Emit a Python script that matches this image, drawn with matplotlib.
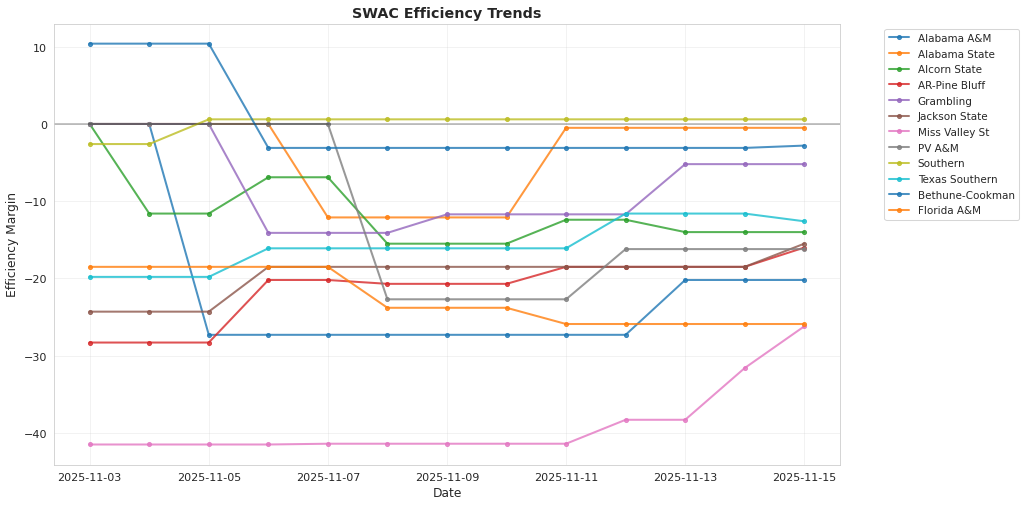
import matplotlib
matplotlib.use("Agg")
import matplotlib.pyplot as plt
import matplotlib.dates as mdates
import pandas as pd
import seaborn as sns

# Daily efficiency margin per team
dates = pd.date_range("2025-11-03", "2025-11-15", freq="D")

teams = [
    "Alabama A&M", "Alabama State", "Alcorn State", "AR-Pine Bluff",
    "Grambling", "Jackson State", "Miss Valley St", "PV A&M",
    "Southern", "Texas Southern", "Bethune-Cookman", "Florida A&M",
]

alabama_am = [0, 0, -27.3, -27.3, -27.3, -27.3, -27.3, -27.3, -27.3, -27.3, -20.2, -20.2, -20.2]
alabama_state = [0, 0, 0, 0, -12.1, -12.1, -12.1, -12.1, -0.5, -0.5, -0.5, -0.5, -0.5]
alcorn_state = [0, -11.6, -11.6, -6.9, -6.9, -15.5, -15.5, -15.5, -12.4, -12.4, -14.0, -14.0, -14.0]
ar_pine_bluff = [-28.3, -28.3, -28.3, -20.2, -20.2, -20.7, -20.7, -20.7, -18.5, -18.5, -18.5, -18.5, -16.0]
grambling = [0, 0, 0, -14.1, -14.1, -14.1, -11.7, -11.7, -11.7, -11.7, -5.2, -5.2, -5.2]
jackson_state = [-24.3, -24.3, -24.3, -18.5, -18.5, -18.5, -18.5, -18.5, -18.5, -18.5, -18.5, -18.5, -15.5]
miss_valley_st = [-41.5, -41.5, -41.5, -41.5, -41.4, -41.4, -41.4, -41.4, -41.4, -38.3, -38.3, -31.6, -26.2]
pv_am = [0, 0, 0, 0, 0, -22.7, -22.7, -22.7, -22.7, -16.2, -16.2, -16.2, -16.2]
southern = [-2.6, -2.6, 0.6, 0.6, 0.6, 0.6, 0.6, 0.6, 0.6, 0.6, 0.6, 0.6, 0.6]
texas_southern = [-19.8, -19.8, -19.8, -16.1, -16.1, -16.1, -16.1, -16.1, -16.1, -11.6, -11.6, -11.6, -12.6]
bethune_cookman = [10.4, 10.4, 10.4, -3.1, -3.1, -3.1, -3.1, -3.1, -3.1, -3.1, -3.1, -3.1, -2.8]
florida_am = [-18.5, -18.5, -18.5, -18.5, -18.5, -23.8, -23.8, -23.8, -25.9, -25.9, -25.9, -25.9, -25.9]

series = [
    alabama_am, alabama_state, alcorn_state, ar_pine_bluff, grambling, jackson_state,
    miss_valley_st, pv_am, southern, texas_southern, bethune_cookman, florida_am,
]

sns.set_style("whitegrid")
fig = plt.figure(figsize=(14, 6.93), dpi=1024 / 14)
ax = fig.add_axes([0.0527, 0.0818, 0.7676, 0.8699])

for name, values in zip(teams, series):
    ax.plot(dates, values, marker="o", linewidth=2, markersize=4, alpha=0.8, label=name)

ax.axhline(0, color="black", linewidth=1.5, alpha=0.3)

ax.set_title("SWAC Efficiency Trends", fontsize=14, fontweight="bold")
ax.set_xlabel("Date", fontsize=12)
ax.set_ylabel("Efficiency Margin", fontsize=12)
ax.tick_params(labelsize=11)
ax.xaxis.set_major_locator(mdates.DayLocator(interval=2))
ax.xaxis.set_major_formatter(mdates.DateFormatter("%Y-%m-%d"))
ax.grid(True, alpha=0.3)
ax.legend(bbox_to_anchor=(1.05, 1), loc="upper left", fontsize=10.2, labelspacing=0.55)

fig.savefig("out.png", dpi=1024 / 14)
